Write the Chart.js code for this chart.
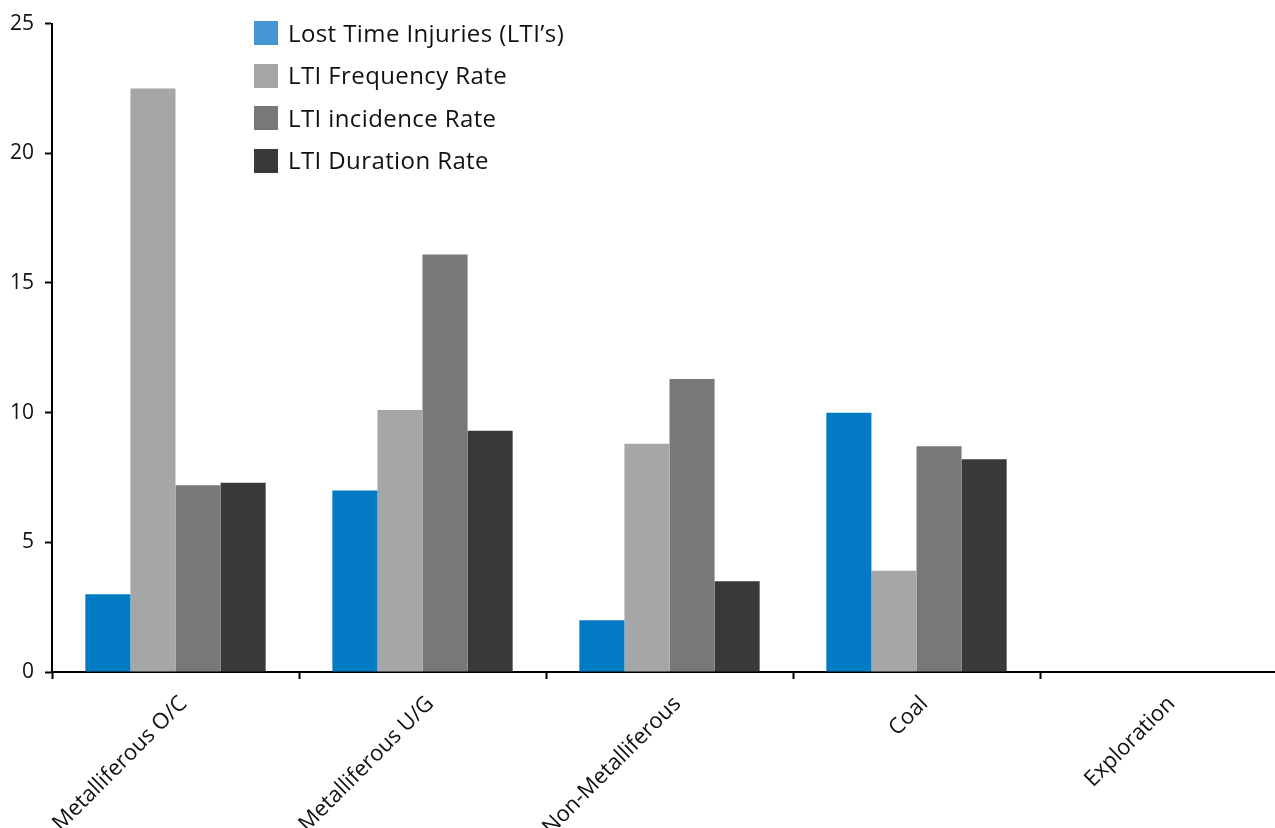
<!DOCTYPE html>
<html>
<head>
<meta charset="utf-8">
<script src="https://cdn.jsdelivr.net/npm/chart.js@4"></script>
<style>
  html, body { margin: 0; padding: 0; background: #fff; overflow: hidden; }
  #wrap { position: relative; width: 1290px; height: 828px; }
  #legend { position: absolute; left: 254px; top: 21px; font-family: "Open Sans", sans-serif; font-size: 24px; letter-spacing: 0.4px; color: #111; }
  .row { display: flex; align-items: center; height: 24px; margin-bottom: 18.5px; }
  .row span { position: relative; top: -1px; white-space: nowrap; }
  .sw { width: 24px; height: 24px; margin-right: 10px; flex: none; }
</style>
</head>
<body>
<div id="wrap">
  <canvas id="c"></canvas>
  <div id="legend"></div>
</div>
<script>
const categories = ["Metalliferous O/C", "Metalliferous U/G", "Non-Metalliferous", "Coal", "Exploration"];
const seriesNames = ["Lost Time Injuries (LTI\u2019s)", "LTI Frequency Rate", "LTI incidence Rate", "LTI Duration Rate"];
const lostTimeInjuries = [3, 7, 2, 10, 0];
const frequencyRate = [22.5, 10.1, 8.8, 3.9, 0];
const incidenceRate = [7.2, 16.1, 11.3, 8.7, 0];
const durationRate = [7.3, 9.3, 3.5, 8.2, 0];
const yTicks = [0, 5, 10, 15, 20, 25];

const barColors = ["#037bc4", "#a5a6a8", "#77787a", "#38393b"];
const legendColors = ["#4396d1", "#a5a6a8", "#77787a", "#38393b"];
const values = [lostTimeInjuries, frequencyRate, incidenceRate, durationRate];

new Chart(document.getElementById("c"), {
  type: "bar",
  data: {
    labels: categories,
    datasets: values.map((v, i) => ({
      label: seriesNames[i],
      data: v,
      backgroundColor: barColors[i],
      borderWidth: 0,
      barPercentage: 1,
      categoryPercentage: 0.73
    }))
  },
  options: {
    responsive: true,
    maintainAspectRatio: false,
    animation: false,
    layout: { padding: { top: 23, right: 3, left: 0, bottom: 0 } },
    plugins: { legend: { display: false }, tooltip: { enabled: false } },
    scales: {
      x: {
        grid: { display: true, drawOnChartArea: false, drawTicks: true, tickLength: 7, tickColor: "#000", tickWidth: 2, offset: true },
        border: { display: true, color: "#000", width: 2 },
        ticks: { color: "#111", font: { family: "'Open Sans', sans-serif", size: 22 }, minRotation: 45, maxRotation: 45, padding: 12, labelOffset: 8 },
        afterFit: s => { s.height = 156; }
      },
      y: {
        min: 0, max: 25,
        afterBuildTicks: s => { s.ticks = yTicks.map(v => ({ value: v })); },
        grid: { display: true, drawOnChartArea: false, drawTicks: true, tickLength: 7, tickColor: "#000", tickWidth: 2 },
        border: { display: true, color: "#000", width: 2 },
        ticks: { color: "#111", font: { family: "'Open Sans', sans-serif", size: 21 }, padding: 11 },
        afterFit: s => { s.width = 52; }
      }
    }
  }
});

const legend = document.getElementById("legend");
seriesNames.forEach((name, i) => {
  const row = document.createElement("div");
  row.className = "row";
  const sw = document.createElement("div");
  sw.className = "sw";
  sw.style.background = legendColors[i];
  const t = document.createElement("span");
  t.textContent = name;
  row.appendChild(sw);
  row.appendChild(t);
  legend.appendChild(row);
});
</script>
</body>
</html>
